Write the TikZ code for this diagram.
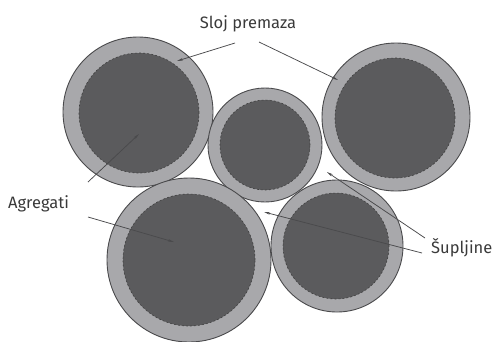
\documentclass[tikz,border=0pt]{standalone}
\usepackage{fontspec}
\setmainfont{Fira Sans}
\usetikzlibrary{arrows.meta}
\definecolor{core}{HTML}{5B5B5D}
\definecolor{coat}{HTML}{A8A8AB}
\definecolor{rim}{HTML}{4A4A4C}
\definecolor{lbl}{HTML}{3A3A3A}
\tikzset{
  coating/.style={circle, fill=coat, draw=rim, line width=0.9pt, inner sep=0pt},
  grain/.style={circle, fill=core, draw=black!75, dashed, dash pattern=on 2pt off 2pt, line width=0.6pt, inner sep=0pt},
  label text/.style={text=lbl, font=\fontsize{16.5}{18}\selectfont, inner sep=0pt},
  leader/.style={draw=rim, line width=0.75pt, -{Stealth[length=6pt,width=2.5pt]}},
}
\begin{document}
\begin{tikzpicture}[x=1pt,y=-1pt]
\useasboundingbox (0,0) rectangle (497,341);
% coated aggregate grains: outer coating ring, then the grain itself
\node[coating, minimum size=150pt] (c1) at (138,112) {};
\node[grain, minimum size=120pt] (g1) at (139,113) {};
\node[coating, minimum size=148pt] (c2) at (396,117) {};
\node[grain, minimum size=120pt] (g2) at (395,118) {};
\node[coating, minimum size=114pt] (c3) at (265,145) {};
\node[grain, minimum size=90pt] (g3) at (265,145) {};
\node[coating, minimum size=132pt] (c5) at (337,246) {};
\node[grain, minimum size=106pt] (g5) at (336,246) {};
\node[coating, minimum size=164pt] (c4) at (189,260) {};
\node[grain, minimum size=132pt] (g4) at (189,260) {};
% labels
\node[label text, anchor=base] (sloj) at (248,28) {Sloj premaza};
\node[label text, anchor=base west] (agr) at (8,208) {Agregati};
\node[label text, anchor=base west] (sup) at (431,253) {Šupljine};
% leader line end points
\coordinate (s1a) at (235,43);  \coordinate (s1b) at (177,61);
\coordinate (s2a) at (259,42);  \coordinate (s2b) at (338,80);
\coordinate (a1a) at (88,182);  \coordinate (a1b) at (139,134);
\coordinate (a2a) at (88,217);  \coordinate (a2b) at (174,242);
\coordinate (p1a) at (425,238); \coordinate (p1b) at (327,172);
\coordinate (p2a) at (422,253); \coordinate (p2b) at (264,212);
\draw[leader] (s1a) -- (s1b);
\draw[leader] (s2a) -- (s2b);
\draw[leader] (a1a) -- (a1b);
\draw[leader] (a2a) -- (a2b);
\draw[leader] (p1a) -- (p1b);
\draw[leader] (p2a) -- (p2b);
\end{tikzpicture}
\end{document}
